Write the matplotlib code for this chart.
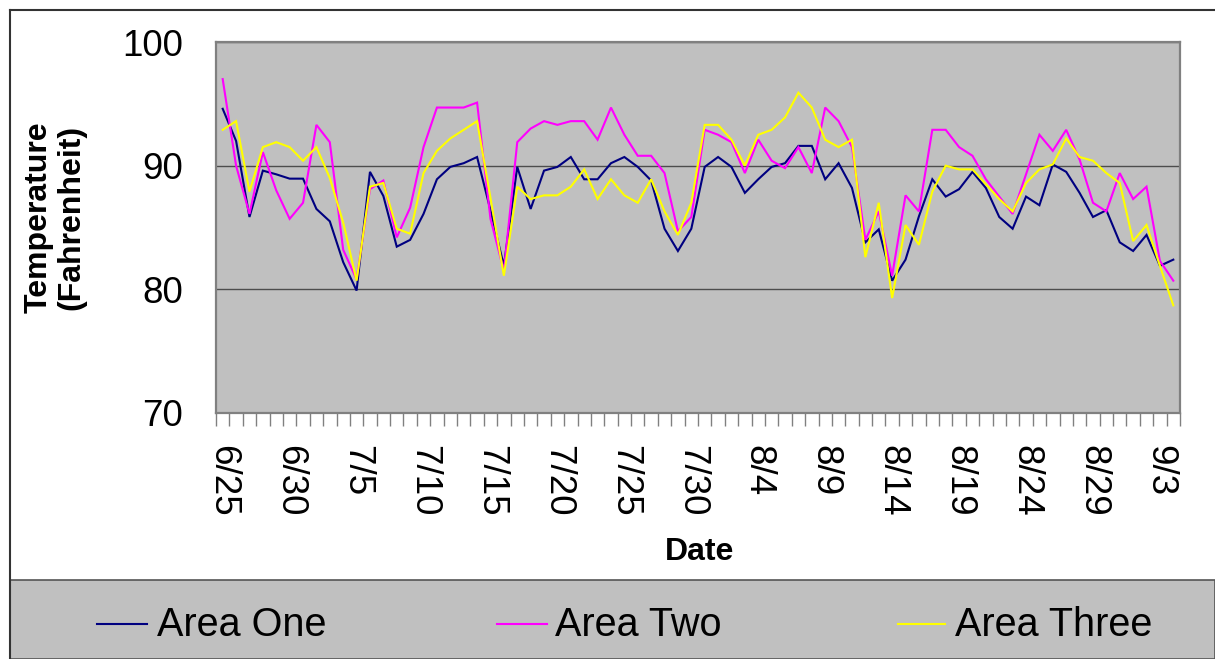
import matplotlib
matplotlib.use("Agg")
import matplotlib.pyplot as plt
from matplotlib.lines import Line2D
from matplotlib.patches import Rectangle
import pandas as pd

plt.rcParams['font.family'] = ['Liberation Sans', 'DejaVu Sans']

# Daily dates from 6/25 through 9/4
dates = pd.date_range("2004-06-25", "2004-09-04", freq="D")
date_labels = [f"{d.month}/{d.day}" for d in dates]

area_one = [94.6, 92.0, 85.85, 89.6, 89.3, 88.95, 88.95, 86.5, 85.5, 82.2,
            79.9, 89.5, 87.55, 83.45, 84.0, 86.1, 88.9, 89.9, 90.2, 90.7,
            86.4, 81.9, 89.9, 86.5, 89.6, 89.9, 90.7, 88.9, 88.9, 90.2,
            90.7, 89.9, 88.8, 84.9, 83.1, 84.9, 89.9, 90.7, 89.9, 87.8,
            88.9, 89.9, 90.2, 91.6, 91.6, 88.9, 90.2, 88.2, 83.8, 84.85,
            80.7, 82.4, 85.9, 88.9, 87.5, 88.1, 89.5, 88.2, 85.85, 84.9,
            87.5, 86.8, 90.1, 89.5, 87.8, 85.85, 86.4, 83.8, 83.1, 84.4,
            81.9, 82.4]

area_two = [97.0, 90.0, 86.1, 91.1, 88.0, 85.7, 87.0, 93.3, 91.9, 83.2,
            80.8, 88.1, 88.8, 84.2, 86.6, 91.5, 94.7, 94.7, 94.7, 95.1,
            85.7, 81.5, 91.9, 93.0, 93.6, 93.3, 93.6, 93.6, 92.1, 94.7,
            92.5, 90.8, 90.8, 89.4, 84.7, 85.85, 92.9, 92.5, 91.9, 89.4,
            92.1, 90.4, 89.8, 91.5, 89.4, 94.7, 93.6, 91.5, 84.0, 86.3,
            81.1, 87.6, 86.3, 92.9, 92.9, 91.5, 90.8, 88.9, 87.5, 86.1,
            89.3, 92.5, 91.2, 92.9, 90.5, 87.0, 86.3, 89.4, 87.3, 88.3,
            82.3, 80.7]

area_three = [92.9, 93.6, 87.9, 91.5, 91.9, 91.5, 90.4, 91.5, 89.0, 85.4,
              80.7, 88.3, 88.6, 84.9, 84.5, 89.4, 91.2, 92.2, 92.9, 93.6,
              87.4, 81.1, 88.3, 87.3, 87.6, 87.6, 88.3, 89.7, 87.3, 88.9,
              87.6, 87.0, 88.9, 86.3, 84.4, 87.0, 93.3, 93.3, 92.1, 90.0,
              92.5, 92.9, 93.9, 95.9, 94.7, 92.1, 91.5, 92.1, 82.6, 87.0,
              79.3, 85.2, 83.6, 87.9, 90.0, 89.7, 89.7, 88.5, 87.3, 86.3,
              88.6, 89.7, 90.1, 92.2, 90.7, 90.4, 89.4, 88.6, 83.9, 85.2,
              81.9, 78.7]

series_names = ["Area One", "Area Two", "Area Three"]
series_colors = ["#000080", "#FF00FF", "#FFFF00"]
y_ticks = [70, 80, 90, 100]

W, H = 1215, 659
fig = plt.figure(figsize=(W / 100, H / 100), dpi=100)
fig.patch.set_facecolor("white")


def fx(px):
    return px / W


def fy(py):
    return 1 - py / H


ax = fig.add_axes([fx(216), fy(413), fx(1180) - fx(216), fy(42) - fy(413)])
ax.set_facecolor("#C0C0C0")

x = list(range(len(dates)))
for vals, name, col in zip([area_one, area_two, area_three], series_names, series_colors):
    ax.plot(x, vals, color=col, lw=1.5, label=name, solid_joinstyle="miter")

ax.set_xlim(-0.5, len(dates) - 0.5)
ax.set_ylim(70, 100)

# y axis
ax.set_yticks(y_ticks)
ax.set_yticklabels([str(v) for v in y_ticks], fontsize=26.5)
ax.tick_params(axis="y", length=0, pad=24)
ax.yaxis.grid(True, color="#4d4d4d", lw=1.0)
ax.set_axisbelow(True)

# x axis: labels every 5 days, small ticks between each day
major = list(range(0, len(dates), 5))
ax.set_xticks(major)
ax.set_xticklabels([date_labels[i] for i in major], rotation=270, fontsize=26.5,
                   ha="center", va="top")
ax.set_xticks([i - 0.5 for i in range(len(dates) + 1)], minor=True)
ax.tick_params(axis="x", which="major", length=0, pad=23)
ax.tick_params(axis="x", which="minor", length=9.5, width=1, color="#808080",
               direction="out")

for s in ax.spines.values():
    s.set_color("#808080")
    s.set_linewidth(1.6)

# axis titles
fig.text(fx(55), fy(217), "Temperature\n(Fahrenheit)", rotation=90, ha="center",
         va="center", fontsize=23, fontweight="bold", linespacing=1.15,
         multialignment="center")
fig.text(fx(700), fy(552), "Date", ha="center", va="center", fontsize=23,
         fontweight="bold")

# chart frame
fig.add_artist(Line2D([fx(10), 1.0], [fy(10), fy(10)], transform=fig.transFigure,
                      color="#333333", lw=1.5))
fig.add_artist(Line2D([fx(10), fx(10)], [fy(10), 0.0], transform=fig.transFigure,
                      color="#333333", lw=1.5))

# legend band
fig.add_artist(Rectangle((fx(10), 0), 1 - fx(10), fy(580), transform=fig.transFigure,
                         facecolor="#C0C0C0", edgecolor="#555555", lw=1.2))
legend_pos = [(97, 147, 157), (497, 547, 555), (898, 945, 955)]
for (x0, x1, tx), name, col in zip(legend_pos, series_names, series_colors):
    fig.add_artist(Line2D([fx(x0), fx(x1)], [fy(624), fy(624)],
                          transform=fig.transFigure, color=col, lw=1.5))
    fig.text(fx(tx), fy(625), name, ha="left", va="center", fontsize=28.5)

fig.savefig("out.png", dpi=100)
